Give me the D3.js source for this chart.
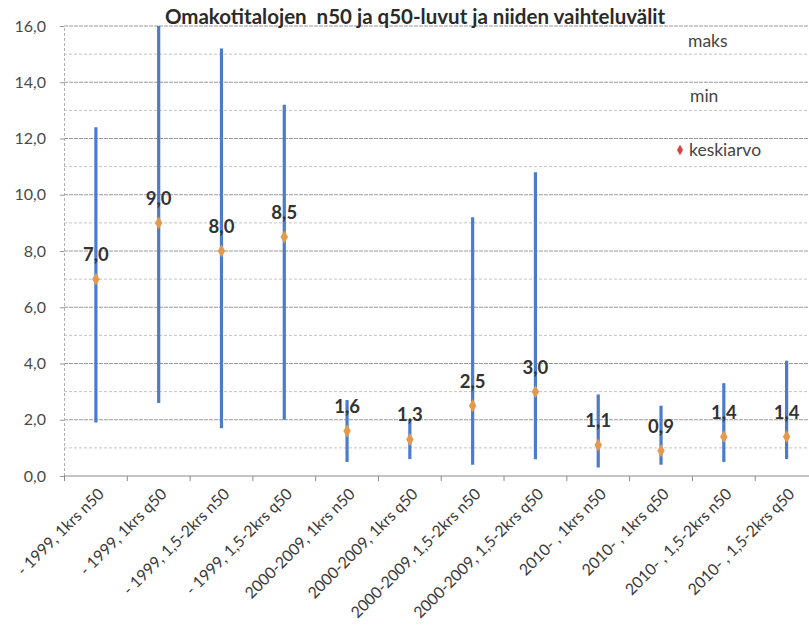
<!DOCTYPE html>
<html>
<head>
<meta charset="utf-8">
<script src="https://cdn.jsdelivr.net/npm/d3@7"></script>
<style>
  html, body { margin: 0; padding: 0; background: #fff; }
  svg { display: block; font-family: Lato, "Open Sans", sans-serif; }
  .title { white-space: pre; }
</style>
</head>
<body>
<svg id="chart" width="809" height="628"></svg>
<script>
// Categories (construction period, storeys, measure)
const categories = [
  "- 1999, 1krs n50", "- 1999, 1krs q50", "- 1999, 1,5-2krs n50", "- 1999, 1,5-2krs q50",
  "2000-2009, 1krs n50", "2000-2009, 1krs q50", "2000-2009, 1,5-2krs n50", "2000-2009, 1,5-2krs q50",
  "2010- , 1krs n50", "2010- , 1krs q50", "2010- , 1,5-2krs n50", "2010- , 1,5-2krs q50"
];
// Range of values per category
const maks = [12.4, 16.0, 15.2, 13.2, 2.7, 2.0, 9.2, 10.8, 2.9, 2.5, 3.3, 4.1];
const min  = [1.9, 2.6, 1.7, 2.0, 0.5, 0.6, 0.4, 0.6, 0.3, 0.4, 0.5, 0.6];
// Mean per category
const keskiarvo = [7.0, 9.0, 8.0, 8.5, 1.6, 1.3, 2.5, 3.0, 1.1, 0.9, 1.4, 1.4];
const yTicks = [0, 2, 4, 6, 8, 10, 12, 14, 16];
const yMinor = [1, 3, 5, 7, 9, 11, 13, 15];

const svg = d3.select("#chart");
const fmt = v => d3.format(".1f")(v).replace(".", ",");

const x = d3.scaleBand().domain(categories).range([64.5, 818]);
const y = d3.scaleLinear().domain([0, 16]).range([476, 26]);

// Grid lines
const grid = svg.append("g");
grid.selectAll("line.minor").data(yMinor).join("line")
  .attr("x1", 64).attr("x2", 809)
  .attr("y1", d => y(d)).attr("y2", d => y(d))
  .attr("stroke", "#c4c4c4").attr("stroke-width", 1).attr("stroke-dasharray", "3,2");
grid.selectAll("line.major").data(yTicks.filter(d => d > 0)).join("line")
  .attr("x1", 64).attr("x2", 809)
  .attr("y1", d => y(d)).attr("y2", d => y(d))
  .attr("stroke", "#9a9a9a").attr("stroke-width", 1).attr("stroke-dasharray", "4,1");

// Y axis
const yAxis = svg.append("g").attr("transform", "translate(64,0)")
  .call(d3.axisLeft(y).tickValues(yTicks).tickFormat(fmt).tickSize(4).tickPadding(14));
yAxis.select(".domain").attr("stroke", "#b0b0b0").attr("stroke-dasharray", "3,2");
yAxis.selectAll(".tick line").attr("stroke", "#999");
yAxis.selectAll(".tick text").attr("font-size", 16).attr("fill", "#4a4a4a")
  .attr("font-family", "Lato, sans-serif");

// X axis
const bounds = categories.map(c => x(c)).concat([x.range()[1]]);
const xAxis = svg.append("g");
xAxis.append("line").attr("x1", 64).attr("x2", 809).attr("y1", y(0)).attr("y2", y(0))
  .attr("stroke", "#8a8a8a").attr("stroke-width", 1.2);
xAxis.selectAll("line.tick").data(bounds).join("line")
  .attr("x1", d => d).attr("x2", d => d).attr("y1", y(0)).attr("y2", y(0) + 5)
  .attr("stroke", "#8a8a8a");
xAxis.selectAll("text").data(categories).join("text")
  .attr("transform", d => `translate(${x(d) + x.bandwidth() / 2 + 9},${y(0) + 19}) rotate(-45)`)
  .attr("text-anchor", "end")
  .attr("font-size", 15.8).attr("fill", "#3a3a3a")
  .text(d => d);

// Range bars
const bars = svg.append("g");
bars.selectAll("line").data(categories).join("line")
  .attr("x1", d => x(d) + x.bandwidth() / 2)
  .attr("x2", d => x(d) + x.bandwidth() / 2)
  .attr("y1", (d, i) => y(maks[i]))
  .attr("y2", (d, i) => y(min[i]))
  .attr("stroke", "#4a7bcc").attr("stroke-width", 3.2);

// Mean markers
const diamond = d3.symbol().type(d3.symbolDiamond).size(48);
svg.append("g").selectAll("path").data(categories).join("path")
  .attr("d", diamond)
  .attr("transform", (d, i) => `translate(${x(d) + x.bandwidth() / 2},${y(keskiarvo[i])})`)
  .attr("fill", "#e39a4c");

// Mean value labels
svg.append("g").selectAll("text").data(categories).join("text")
  .attr("x", d => x(d) + x.bandwidth() / 2)
  .attr("y", (d, i) => y(keskiarvo[i]) - 18)
  .attr("text-anchor", "middle")
  .attr("font-size", 18.5).attr("font-weight", "bold").attr("fill", "#333")
  .text((d, i) => fmt(keskiarvo[i]));

// Title
svg.append("text").attr("class", "title").attr("x", 415).attr("y", 24).attr("text-anchor", "middle")
  .attr("font-size", 20.5).attr("font-weight", "bold").attr("fill", "#2a2a2a")
  .text("Omakotitalojen  n50 ja q50-luvut ja niiden vaihteluvälit");

// Legend
const legend = svg.append("g").attr("font-size", 17.5).attr("fill", "#444");
legend.append("text").attr("x", 688).attr("y", 47).text("maks");
legend.append("text").attr("x", 690).attr("y", 102).text("min");
legend.append("path").attr("d", d3.symbol().type(d3.symbolDiamond).size(32))
  .attr("transform", "translate(680,150)").attr("fill", "#d9443f");
legend.append("text").attr("x", 689).attr("y", 156).text("keskiarvo");
</script>
</body>
</html>
